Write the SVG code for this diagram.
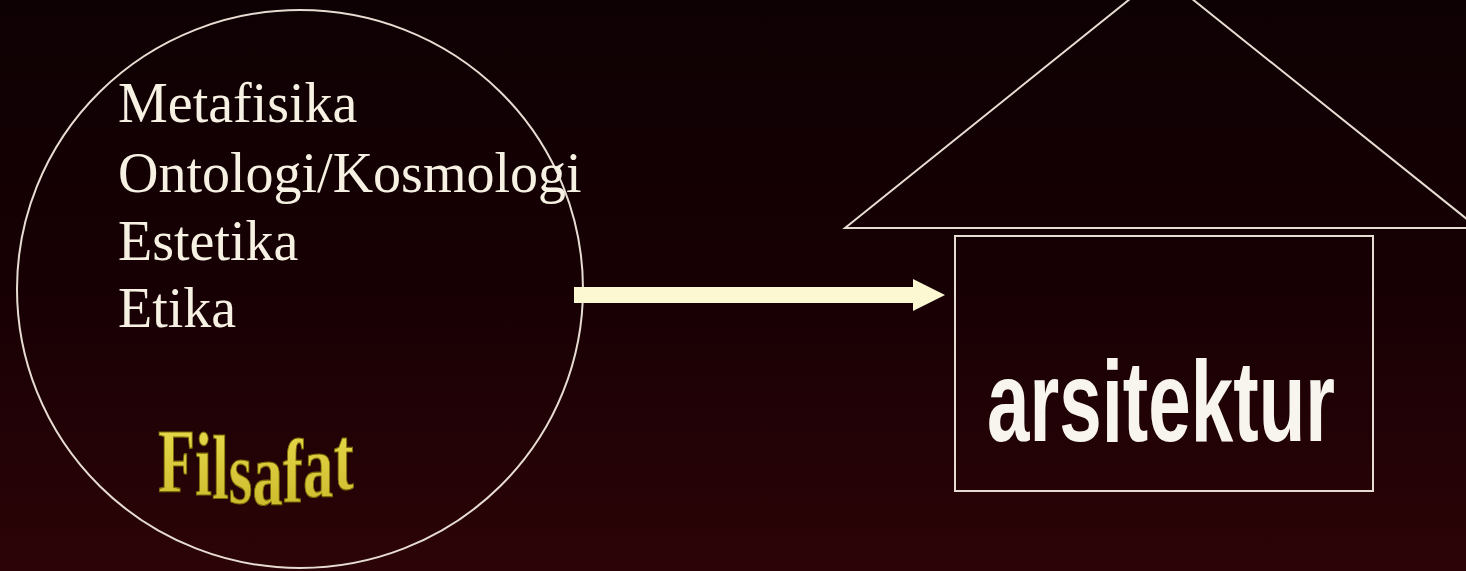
<svg xmlns="http://www.w3.org/2000/svg" width="1466" height="571" viewBox="0 0 1466 571">
<defs>
<linearGradient id="bg" x1="0" y1="0" x2="0" y2="1">
<stop offset="0" stop-color="#0e0103"/>
<stop offset="0.5" stop-color="#170004"/>
<stop offset="1" stop-color="#2c0407"/>
</linearGradient>
<linearGradient id="gold" x1="0" y1="0" x2="0" y2="1">
<stop offset="0" stop-color="#ece050"/>
<stop offset="1" stop-color="#c8b428"/>
</linearGradient>
<style>
.line{fill:none;stroke:#e6dcd2;stroke-width:2}
.item{font-family:"Liberation Serif","Times New Roman",serif;font-size:56px;fill:#f6f1e2}
.big{font-family:"Liberation Sans",Arial,sans-serif;font-weight:bold;font-size:115px;fill:#f8f5ee}
.fil{font-family:"Liberation Serif","Times New Roman",serif;font-size:92px;font-weight:bold;fill:url(#gold);stroke:#7a6a08;stroke-width:1.2}
</style>
</defs>
<rect x="0" y="0" width="1466" height="571" fill="url(#bg)"/>
<g id="filsafat">
<ellipse class="line" cx="300" cy="289" rx="283" ry="279"/>
<text class="item" x="118" y="122">Metafisika</text>
<text class="item" x="118" y="192">Ontologi/Kosmologi</text>
<text class="item" x="118" y="260">Estetika</text>
<text class="item" x="118" y="327">Etika</text>
<g transform="translate(158,0) scale(0.66,1)">
<text class="fil" x="0" y="492 495 498 503 505 502 497 489">Filsafat</text>
</g>
</g>
<g id="connectors">
<path d="M574,287 H913 V279 L945,295 L913,311 V303 H574 Z" fill="#fbf8d2"/>
</g>
<g id="arsitektur">
<polygon class="line" points="845,228 1161,-26 1478,228"/>
<rect class="line" x="955" y="236" width="418" height="255"/>
<g transform="translate(987,441) scale(0.664,1)">
<text class="big" x="0" y="0">arsitektur</text>
</g>
</g>
</svg>
